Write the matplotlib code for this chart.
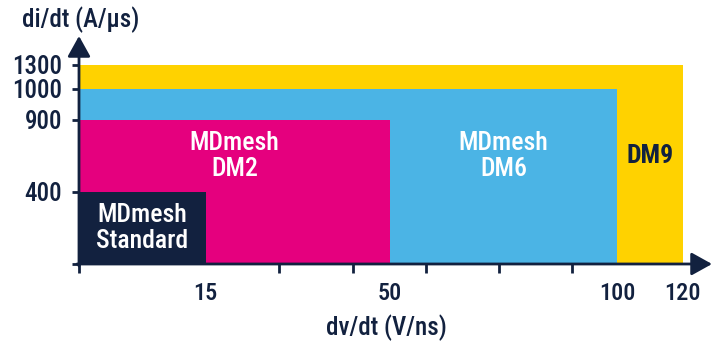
import numpy as np
import matplotlib
matplotlib.use("Agg")
import matplotlib.pyplot as plt
from matplotlib.patches import Rectangle

plt.rcParams['font.family'] = ['Roboto Condensed', 'Roboto', 'DejaVu Sans']
plt.rcParams['font.weight'] = 500

# families: label, dv/dt max (V/ns), di/dt max (A/us), colour, text colour
families = ['MDmesh\nStandard', 'MDmesh\nDM2', 'MDmesh\nDM6', 'DM9']
dvdt_max = [15, 50, 100, 120]
didt_max = [400, 900, 1000, 1300]
colors = ['#12213f', '#e5007e', '#4bb4e5', '#ffd200']
text_colors = ['white', 'white', 'white', '#12213f']

x_ticks = [15, 50, 100, 120]
x_tick_marks = [0, 15, 29, 43, 58, 74, 90, 100, 120]
y_ticks = [0, 400, 900, 1000, 1300]
y_tick_labels = ['', '400', '900', '1000', '1300']

navy = '#12213f'

# the sketch uses a non-linear (piecewise) axis
x_anchor = [0, 15, 50, 100, 120]
x_pos = [0, 126.7, 311, 538, 603.5]
y_anchor = [0, 400, 900, 1000, 1300]
y_pos = [0, 72.3, 144.5, 175, 199]


def fwd_x(v):
    return np.interp(v, x_anchor, x_pos)


def inv_x(p):
    return np.interp(p, x_pos, x_anchor)


def fwd_y(v):
    return np.interp(v, y_anchor, y_pos)


def inv_y(p):
    return np.interp(p, y_pos, y_anchor)


fig = plt.figure(figsize=(7.21, 3.45), dpi=100)
W, H = 721, 345
ax = fig.add_axes([79 / W, (H - 264) / H, (682.5 - 79) / W, (264 - 65) / H])
ax.set_xscale('function', functions=(fwd_x, inv_x))
ax.set_yscale('function', functions=(fwd_y, inv_y))
ax.set_xlim(0, 120)
ax.set_ylim(0, 1300)

# biggest first so the smaller ones sit on top
for i in range(len(families) - 1, -1, -1):
    ax.add_patch(Rectangle((0, 0), dvdt_max[i], didt_max[i], facecolor=colors[i],
                           edgecolor='none', zorder=1))

# labels in the middle of the visible part of each block
y_mid = inv_y((fwd_y(400) + fwd_y(900)) / 2)
for i in range(len(families)):
    x0 = dvdt_max[i - 1] if i >= 2 else 0
    xm = inv_x((fwd_x(x0) + fwd_x(dvdt_max[i])) / 2)
    ym = inv_y(fwd_y(didt_max[0]) / 2) if i == 0 else y_mid
    ax.text(xm, ym, families[i], ha='center', va='center', color=text_colors[i],
            fontsize=18.5, fontweight='bold' if i == 3 else 500,
            linespacing=1.1, zorder=3)

for s in ax.spines.values():
    s.set_visible(False)

ax.set_xticks(x_ticks)
ax.set_xticklabels([str(v) for v in x_ticks])
ax.set_xticks(x_tick_marks, minor=True)
ax.tick_params(axis='x', which='major', length=0, pad=13, labelsize=17.5, labelcolor=navy)
ax.tick_params(axis='x', which='minor', length=6.5, width=2, color=navy, direction='out')
ax.set_yticks(y_ticks)
ax.set_yticklabels(y_tick_labels)
ax.tick_params(axis='y', length=5, width=2, color=navy, pad=7, labelsize=18, labelcolor=navy)
ax.yaxis.set_minor_locator(matplotlib.ticker.NullLocator())

# axis arrows
arrow = dict(arrowstyle='-|>,head_length=0.9,head_width=0.5', color=navy, lw=2,
             shrinkA=0, shrinkB=0, mutation_scale=14)
ax.annotate('', xy=(1 + 29.5 / 603.5, 0), xytext=(-2 / 603.5, 0), xycoords='axes fraction',
            arrowprops=arrow, annotation_clip=False, zorder=5)
ax.annotate('', xy=(0, 1 + 29 / 199), xytext=(0, -2 / 199), xycoords='axes fraction',
            arrowprops=arrow, annotation_clip=False, zorder=5)

fig.text(22 / W, 1 - 27 / H, 'di/dt (A/µs)', ha='left', va='baseline', fontsize=18, color=navy)
fig.text(386 / W, 1 - 335 / H, 'dv/dt (V/ns)', ha='center', va='baseline', fontsize=18, color=navy)

fig.savefig('out.png', dpi=100)
